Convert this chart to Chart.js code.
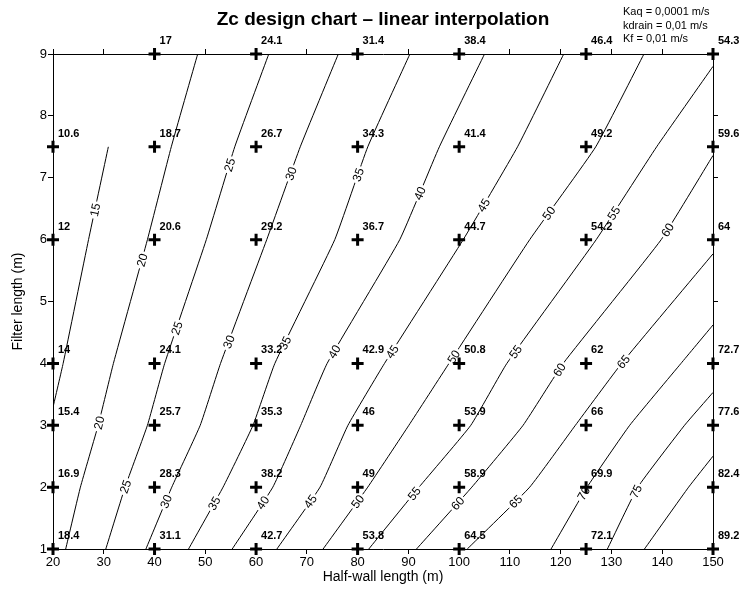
<!DOCTYPE html>
<html>
<head>
<meta charset="utf-8">
<script src="https://cdn.jsdelivr.net/npm/chart.js@4.4.1/dist/chart.umd.min.js"></script>
<style>
  html, body { margin: 0; padding: 0; background: #fff; }
  #wrap { width: 741px; height: 589px; }
</style>
</head>
<body>
<div id="wrap"><canvas id="chartZc" width="741" height="589"></canvas></div>
<script>
const FONT = '"Liberation Sans", Arial, sans-serif';

// grid of computed points
const halfWall = [20, 40, 60, 80, 100, 125, 150];
const filterLengths = [1, 2, 3, 4, 6, 7.5, 9];
const zcAt1 = [18.4, 31.1, 42.7, 53.8, 64.5, 72.1, 89.2];
const zcAt2 = [16.9, 28.3, 38.2, 49, 58.9, 69.9, 82.4];
const zcAt3 = [15.4, 25.7, 35.3, 46, 53.9, 66, 77.6];
const zcAt4 = [14, 24.1, 33.2, 42.9, 50.8, 62, 72.7];
const zcAt6 = [12, 20.6, 29.2, 36.7, 44.7, 54.2, 64];
const zcAt75 = [10.6, 18.7, 26.7, 34.3, 41.4, 49.2, 59.6];
const zcAt9 = [null, 17, 24.1, 31.4, 38.4, 46.4, 54.3];
const zcRows = [zcAt1, zcAt2, zcAt3, zcAt4, zcAt6, zcAt75, zcAt9];

// contour lines: [half-wall, filter length]
const contour15 = [[20, 3.29], [22, 4], [27, 6], [30.9, 7.5]];
const contour20 = [[22.5, 1], [25.4, 2], [28.9, 3], [31.9, 4], [38.6, 6], [43.3, 7.5], [48.5, 9]];
const contour25 = [[30.4, 1], [34.2, 2], [38.6, 3], [42, 4], [50.2, 6], [55.8, 7.5], [62.5, 9]];
const contour30 = [[38.3, 1], [43.4, 2], [49, 3], [53, 4], [62.1, 6], [68.7, 7.5], [76.2, 9]];
const contour35 = [[46.7, 1], [53.5, 2], [59.4, 3], [63.7, 4], [75.5, 6], [82, 7.5], [90.3, 9]];
const contour40 = [[55.3, 1], [63.3, 2], [68.8, 3], [74, 4], [88.3, 6], [96.1, 7.5], [105, 9]];
const contour45 = [[64.1, 1], [72.6, 2], [78.1, 3], [85.3, 4], [100.8, 6], [111.5, 7.5], [120.6, 9]];
const contour50 = [[73.2, 1], [82, 2], [90.1, 3], [98, 4], [113.9, 6], [126.9, 7.5], [136.4, 9]];
const contour55 = [[82.2, 1], [92.1, 2], [102.3, 3], [109.4, 4], [127, 6], [138.9, 7.5], [150, 8.8]];
const contour60 = [[91.6, 1], [102.5, 2], [112.6, 3], [120.5, 4], [139.8, 6], [150, 7.36]];
const contour65 = [[101.6, 1], [113.9, 2], [122.9, 3], [132, 4], [150, 5.77]];
const contour70 = [[118.1, 1], [125.2, 2], [133.6, 3], [143.7, 4], [150, 4.62]];
const contour75 = [[129.2, 1], [135.2, 2], [144.4, 3], [150, 3.53]];
const contour80 = [[136.5, 1], [145.2, 2], [150, 2.5]];
const contourLevels = [15, 20, 25, 30, 35, 40, 45, 50, 55, 60, 65, 70, 75, 80];
const contourLines = [contour15, contour20, contour25, contour30, contour35, contour40, contour45,
  contour50, contour55, contour60, contour65, contour70, contour75, contour80];

// inline contour labels: level and filter length where they sit
const labelLevels = [15, 20, 25, 30, 35, 40, 45, 50, 55, 60,
  25, 30, 35, 40, 45, 50, 55, 60, 65,
  20, 25, 30, 35, 40, 45, 50, 55, 60, 65, 70, 75];
const labelYs = [6.48, 5.67, 7.21, 7.07, 7.05, 6.75, 6.56, 6.43, 6.43, 6.16,
  4.57, 4.35, 4.33, 4.19, 4.19, 4.11, 4.19, 3.9, 4.03,
  3.04, 2.01, 1.77, 1.74, 1.75, 1.77, 1.77, 1.9, 1.74, 1.77, 1.9, 1.93];

const paramLines = ['Kaq = 0,0001 m/s', 'kdrain = 0,01 m/s', 'Kf = 0,01 m/s'];

const gridPoints = [];
zcRows.forEach((row, i) => {
  row.forEach((v, j) => {
    if (v !== null) gridPoints.push({ x: halfWall[j], y: filterLengths[i], v });
  });
});

const contourDatasets = contourLines.map((pts, k) => ({
  label: 'Zc ' + contourLevels[k],
  data: pts.map(p => ({ x: p[0], y: p[1] })),
  showLine: true,
  borderColor: '#000',
  borderWidth: 1,
  pointRadius: 0,
  tension: 0.12
}));

function lineAt(level, yv) {
  const pts = contourLines[contourLevels.indexOf(level)];
  for (let i = 0; i < pts.length - 1; i++) {
    const a = pts[i], b = pts[i + 1];
    if (yv >= a[1] && yv <= b[1]) {
      const t = (yv - a[1]) / (b[1] - a[1]);
      return { xv: a[0] + t * (b[0] - a[0]), a, b };
    }
  }
  return null;
}

const annotate = {
  id: 'annotate',
  beforeDatasetDraw(chart, args) {
    if (args.index !== 0) return;
    const { ctx, scales: { x, y } } = chart;
    ctx.save();
    ctx.font = '12px ' + FONT;
    ctx.textAlign = 'center';
    ctx.textBaseline = 'middle';
    labelLevels.forEach((lev, k) => {
      const hit = lineAt(lev, labelYs[k]);
      if (!hit) return;
      const px = x.getPixelForValue(hit.xv), py = y.getPixelForValue(labelYs[k]);
      const ang = Math.atan2(y.getPixelForValue(hit.b[1]) - y.getPixelForValue(hit.a[1]),
        x.getPixelForValue(hit.b[0]) - x.getPixelForValue(hit.a[0]));
      const txt = String(lev);
      const w = ctx.measureText(txt).width;
      ctx.save();
      ctx.translate(px, py);
      ctx.rotate(ang);
      ctx.fillStyle = '#fff';
      ctx.fillRect(-w / 2 - 2, -6, w + 4, 12);
      ctx.fillStyle = '#000';
      ctx.fillText(txt, 0, 1);
      ctx.restore();
    });
    ctx.restore();
  },
  afterDatasetsDraw(chart) {
    const { ctx, scales: { x, y } } = chart;
    ctx.save();
    ctx.fillStyle = '#000';
    ctx.font = 'bold 11px ' + FONT;
    ctx.textAlign = 'left';
    ctx.textBaseline = 'alphabetic';
    gridPoints.forEach(p => {
      ctx.fillText(String(p.v), x.getPixelForValue(p.x) + 5, y.getPixelForValue(p.y) - 10);
    });
    // title
    ctx.font = 'bold 19px ' + FONT;
    ctx.textAlign = 'center';
    ctx.fillText('Zc design chart \u2013 linear interpolation', 383, 25);
    // parameters
    ctx.font = '11px ' + FONT;
    ctx.textAlign = 'left';
    paramLines.forEach((t, i) => ctx.fillText(t, 623, 15 + i * 13.5));
    ctx.restore();
  }
};

const tickFont = { family: FONT, size: 13 };

new Chart(document.getElementById('chartZc'), {
  type: 'scatter',
  data: {
    datasets: [{
      label: 'Grid',
      data: gridPoints,
      pointStyle: 'cross',
      pointRadius: 6,
      pointBorderWidth: 3,
      borderColor: '#000',
      backgroundColor: '#000',
      clip: false
    }, ...contourDatasets]
  },
  options: {
    responsive: false,
    animation: false,
    devicePixelRatio: 1,
    layout: { padding: { top: 54, right: 28, left: 0, bottom: 0 } },
    plugins: { legend: { display: false }, tooltip: { enabled: false } },
    scales: {
      x: {
        type: 'linear', min: 20, max: 150,
        ticks: { stepSize: 10, color: '#000', font: tickFont, padding: 1 },
        grid: { drawOnChartArea: false, tickLength: 5, color: '#000' },
        border: { color: '#000', width: 1 },
        title: { display: true, text: 'Half-wall length (m)', color: '#000', font: { family: FONT, size: 14 }, padding: { top: 0, bottom: 3 } },
        afterFit(s) { s.height = 40; }
      },
      xTop: {
        type: 'linear', position: 'top', min: 20, max: 150,
        ticks: { stepSize: 10, display: false },
        grid: { drawOnChartArea: false, tickLength: 5, color: '#000' },
        border: { color: '#000', width: 1 },
        afterFit(s) { s.height = 0; }
      },
      y: {
        type: 'linear', min: 1, max: 9,
        ticks: { stepSize: 1, color: '#000', font: tickFont, padding: 1 },
        grid: { drawOnChartArea: false, tickLength: 5, color: '#000' },
        border: { color: '#000', width: 1 },
        title: { display: true, text: 'Filter length (m)', color: '#000', font: { family: FONT, size: 14 }, padding: { top: 10, bottom: 0 } },
        afterFit(s) { s.width = 53; }
      },
      yRight: {
        type: 'linear', position: 'right', min: 1, max: 9,
        ticks: { stepSize: 1, display: false },
        grid: { drawOnChartArea: false, tickLength: 5, color: '#000' },
        border: { color: '#000', width: 1 },
        afterFit(s) { s.width = 0; }
      }
    }
  },
  plugins: [annotate]
});
</script>
</body>
</html>
